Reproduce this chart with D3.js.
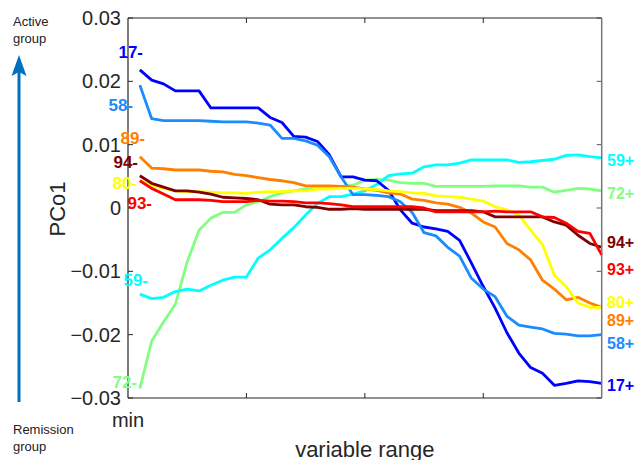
<!DOCTYPE html>
<html>
<head>
<meta charset="utf-8">
<script src="https://cdn.jsdelivr.net/npm/d3@7"></script>
<style>
  body { margin: 0; background: #fff; }
  text { font-family: "Liberation Sans", Arial, sans-serif; }
</style>
</head>
<body>
<svg id="chart" width="641" height="460"></svg>
<script>
// x positions of the samples along the variable range
const xs = [0.1, 0.2, 0.3, 0.4, 0.5, 0.6, 0.7, 0.8, 0.9, 1.0,
            1.1, 1.2, 1.3, 1.4, 1.5, 1.6, 1.7, 1.8, 1.9, 2.0,
            2.1, 2.2, 2.3, 2.4, 2.5, 2.6, 2.7, 2.8, 2.9, 3.0,
            3.1, 3.2, 3.3, 3.4, 3.5, 3.6, 3.7, 3.8, 3.9, 4.0];

const s17 = [0.0218, 0.0202, 0.0196, 0.0185, 0.0185, 0.0185, 0.0158, 0.0158, 0.0158, 0.0158,
             0.0158, 0.0143, 0.0135, 0.0113, 0.0112, 0.0105, 0.0084, 0.0049, 0.0049, 0.0044,
             0.0043, 0.0028, -0.0003, -0.0024, -0.0030, -0.0033, -0.0037, -0.0051, -0.0087, -0.0124,
             -0.0158, -0.0197, -0.0229, -0.0252, -0.0261, -0.0280, -0.0277, -0.0273, -0.0274, -0.0277];
const s58 = [0.0194, 0.0141, 0.0138, 0.0138, 0.0138, 0.0138, 0.0137, 0.0136, 0.0136, 0.0136,
             0.0134, 0.0131, 0.0110, 0.0110, 0.0106, 0.0099, 0.0081, 0.0049, 0.0021, 0.0021,
             0.0020, 0.0018, 0.0010, -0.0007, -0.0039, -0.0044, -0.0062, -0.0076, -0.0111, -0.0128,
             -0.0140, -0.0171, -0.0185, -0.0188, -0.0191, -0.0198, -0.0199, -0.0202, -0.0202, -0.0200];
const s89 = [0.0081, 0.0063, 0.0062, 0.0060, 0.0060, 0.0060, 0.0058, 0.0057, 0.0053, 0.0051,
             0.0048, 0.0045, 0.0043, 0.0040, 0.0035, 0.0035, 0.0035, 0.0034, 0.0033, 0.0030,
             0.0028, 0.0024, 0.0022, 0.0014, 0.0012, 0.0008, 0.0006, 0.0001, -0.0008, -0.0022,
             -0.0030, -0.0056, -0.0066, -0.0082, -0.0114, -0.0128, -0.0145, -0.0141, -0.0150, -0.0157];
const s80 = [0.0043, 0.0036, 0.0031, 0.0027, 0.0026, 0.0026, 0.0025, 0.0024, 0.0024, 0.0023,
             0.0025, 0.0026, 0.0026, 0.0027, 0.0027, 0.0030, 0.0030, 0.0031, 0.0031, 0.0030,
             0.0029, 0.0027, 0.0026, 0.0024, 0.0023, 0.0019, 0.0018, 0.0017, 0.0014, 0.0011,
             0.0002, -0.0003, -0.0011, -0.0035, -0.0058, -0.0106, -0.0124, -0.0150, -0.0157, -0.0157];
const s94 = [0.0051, 0.0039, 0.0033, 0.0027, 0.0027, 0.0025, 0.0022, 0.0017, 0.0016, 0.0015,
             0.0013, 0.0006, 0.0005, 0.0005, 0.0002, 0.0001, -0.0002, -0.0002, -0.0001, -0.0002,
             -0.0002, -0.0002, -0.0002, -0.0002, -0.0002, -0.0004, -0.0004, -0.0004, -0.0004, -0.0006,
             -0.0014, -0.0014, -0.0014, -0.0014, -0.0014, -0.0022, -0.0027, -0.0043, -0.0056, -0.0062];
const s93 = [0.0043, 0.0031, 0.0022, 0.0013, 0.0013, 0.0013, 0.0012, 0.0010, 0.0010, 0.0010,
             0.0012, 0.0011, 0.0011, 0.0010, 0.0008, 0.0008, 0.0007, 0.0005, 0.0002, 0.0002,
             0.0002, 0.0002, 0.0002, 0.0002, 0.0000, -0.0006, -0.0006, -0.0006, -0.0006, -0.0006,
             -0.0005, -0.0006, -0.0006, -0.0006, -0.0014, -0.0015, -0.0024, -0.0037, -0.0040, -0.0074];
const s59 = [-0.0136, -0.0143, -0.0141, -0.0132, -0.0128, -0.0131, -0.0122, -0.0114, -0.0109, -0.0109,
             -0.0079, -0.0066, -0.0048, -0.0031, -0.0011, 0.0007, 0.0018, 0.0018, 0.0022, 0.0027,
             0.0037, 0.0051, 0.0054, 0.0055, 0.0065, 0.0068, 0.0068, 0.0071, 0.0076, 0.0076,
             0.0076, 0.0076, 0.0072, 0.0073, 0.0075, 0.0077, 0.0083, 0.0084, 0.0081, 0.0079];
const s72 = [-0.0285, -0.0210, -0.0180, -0.0152, -0.0085, -0.0035, -0.0016, -0.0007, -0.0007, 0.0005,
             0.0010, 0.0018, 0.0024, 0.0027, 0.0030, 0.0031, 0.0033, 0.0034, 0.0036, 0.0044,
             0.0045, 0.0044, 0.0040, 0.0039, 0.0039, 0.0034, 0.0034, 0.0034, 0.0034, 0.0034,
             0.0035, 0.0035, 0.0035, 0.0033, 0.0033, 0.0025, 0.0028, 0.0031, 0.0030, 0.0027];

const seriesNames = ['72', '59', '17', '58', '89', '80', '94', '93'];
const seriesValues = [s72, s59, s17, s58, s89, s80, s94, s93];
const seriesColors = ['#80ff80', '#00ffff', '#0000ff', '#1a8cff', '#ff8000', '#ffff00', '#800000', '#ff0000'];

const yTicks = [0.03, 0.02, 0.01, 0, -0.01, -0.02, -0.03];
const xTicks = [1, 2, 3];

// label placement (pixels), kept apart from the data
const leftLabels = { '17': [143, 52], '58': [133, 105], '89': [145, 138], '94': [138, 162],
                     '80': [137, 183], '93': [152, 203], '59': [148, 280], '72': [137, 382] };
const rightLabels = { '59': 160, '72': 193, '94': 242, '93': 269, '80': 302, '89': 320, '58': 343, '17': 385 };

const svg = d3.select('#chart');
const margin = { top: 18, left: 128, right: 601.7, bottom: 398 };

const x = d3.scaleLinear().domain([0, 4]).range([margin.left, margin.right]);
const y = d3.scaleLinear().domain([-0.03, 0.03]).range([margin.bottom, margin.top]);
const axisColor = '#262626';

// ticks (inward, on all four sides)
const tickLen = 5;
yTicks.forEach(t => {
    svg.append('line').attr('x1', x(0)).attr('x2', x(0) + tickLen)
        .attr('y1', y(t)).attr('y2', y(t)).attr('stroke', axisColor);
    svg.append('line').attr('x1', x(4)).attr('x2', x(4) - tickLen)
        .attr('y1', y(t)).attr('y2', y(t)).attr('stroke', '#555');
    svg.append('text').attr('x', x(0) - 7).attr('y', y(t))
        .attr('text-anchor', 'end').attr('dominant-baseline', 'central')
        .attr('font-size', 20).attr('fill', axisColor).text(d3.format('')(t));
});
xTicks.forEach(t => {
    svg.append('line').attr('x1', x(t)).attr('x2', x(t))
        .attr('y1', y(-0.03)).attr('y2', y(-0.03) - tickLen).attr('stroke', axisColor);
    svg.append('line').attr('x1', x(t)).attr('x2', x(t))
        .attr('y1', y(0.03)).attr('y2', y(0.03) + tickLen).attr('stroke', axisColor);
});

// lines
const line = d3.line().x((d, i) => x(xs[i])).y(d => y(d));
seriesNames.forEach((name, k) => {
    svg.append('path')
        .datum(seriesValues[k])
        .attr('d', line)
        .attr('fill', 'none')
        .attr('stroke', seriesColors[k])
        .attr('stroke-width', 2.8)
        .attr('stroke-linejoin', 'round');
});

// box
svg.append('line').attr('x1', x(0)).attr('x2', x(4)).attr('y1', y(0.03)).attr('y2', y(0.03))
    .attr('stroke', axisColor).attr('stroke-width', 1.2);
svg.append('line').attr('x1', x(0)).attr('x2', x(4)).attr('y1', y(-0.03)).attr('y2', y(-0.03))
    .attr('stroke', axisColor).attr('stroke-width', 1.2);
svg.append('line').attr('x1', x(0)).attr('x2', x(0)).attr('y1', y(0.03)).attr('y2', y(-0.03))
    .attr('stroke', axisColor).attr('stroke-width', 1.2);
svg.append('line').attr('x1', x(4)).attr('x2', x(4)).attr('y1', y(0.03)).attr('y2', y(-0.03))
    .attr('stroke', '#777').attr('stroke-width', 1.5);

// series labels
seriesNames.forEach((name, k) => {
    svg.append('text')
        .attr('x', leftLabels[name][0]).attr('y', leftLabels[name][1])
        .attr('text-anchor', 'end').attr('dominant-baseline', 'central')
        .attr('font-size', 17).attr('font-weight', 'bold')
        .attr('fill', seriesColors[k]).text(name + '-');
    svg.append('text')
        .attr('x', 607).attr('y', rightLabels[name])
        .attr('dominant-baseline', 'central')
        .attr('font-size', 16).attr('font-weight', 'bold')
        .attr('fill', seriesColors[k]).text(name + '+');
});

// axis titles
svg.append('text').attr('x', x(0)).attr('y', 420).attr('text-anchor', 'middle')
    .attr('dominant-baseline', 'central').attr('font-size', 20).attr('fill', axisColor).text('min');
svg.append('text').attr('x', x(2)).attr('y', 449).attr('text-anchor', 'middle')
    .attr('dominant-baseline', 'central').attr('font-size', 22).attr('fill', axisColor).text('variable range');
svg.append('text').attr('transform', 'translate(57,209) rotate(-90)').attr('text-anchor', 'middle')
    .attr('dominant-baseline', 'central').attr('font-size', 22).attr('fill', axisColor).text('PCo1');

// arrow on the left
const arrowColor = '#0072bd';
svg.append('line').attr('x1', 19).attr('x2', 19).attr('y1', 70).attr('y2', 402)
    .attr('stroke', arrowColor).attr('stroke-width', 3);
svg.append('path').attr('d', 'M19,55 L11.5,76 L19,72 L26.5,76 Z').attr('fill', arrowColor);

const note = svg.append('g').attr('font-size', 13).attr('fill', '#222');
note.append('text').attr('x', 13).attr('y', 21).attr('dominant-baseline', 'central').text('Active');
note.append('text').attr('x', 13).attr('y', 38).attr('dominant-baseline', 'central').text('group');
note.append('text').attr('x', 13).attr('y', 429).attr('dominant-baseline', 'central').text('Remission');
note.append('text').attr('x', 13).attr('y', 446).attr('dominant-baseline', 'central').text('group');
</script>
</body>
</html>
